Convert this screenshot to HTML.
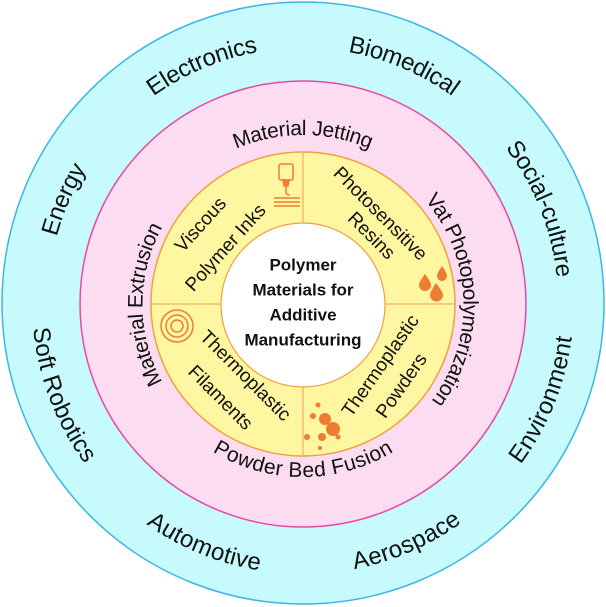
<!DOCTYPE html>
<html><head><meta charset="utf-8"><style>
html,body{margin:0;padding:0;background:#fff;}
svg{display:block;}
text{font-family:"Liberation Sans",sans-serif;fill:#111;}
</style></head><body>
<svg width="606" height="607" viewBox="0 0 606 607" xmlns="http://www.w3.org/2000/svg">
<defs>
<path id="oCW" d="M303,566 A263,263 0 0 1 303,40 A263,263 0 0 1 303,566"/>
<path id="oCCW" d="M303,40 A263,263 0 0 0 303,566 A263,263 0 0 0 303,40"/>
<path id="mCW" d="M303,472 A167,167 0 0 1 303,137 A167,167 0 0 1 303,472"/>
<path id="mCWt" d="M303,478 A175,175 0 0 1 303,128 A175,175 0 0 1 303,478"/>
<path id="mCCW" d="M303,137 A166,166 0 0 0 303,470 A166,166 0 0 0 303,137"/>
</defs>
<circle cx="303" cy="303" r="301" fill="#c6fafc" stroke="#3cb6e6" stroke-width="1.5"/>
<circle cx="303" cy="304" r="223" fill="#fcdcf0" stroke="#e84aa0" stroke-width="1.5"/>
<circle cx="303" cy="304" r="152" fill="#fff6a2" stroke="#f0a040" stroke-width="1.5"/>
<line x1="303" y1="152" x2="303" y2="456" stroke="#f0b060" stroke-width="1.2"/>
<line x1="151" y1="304" x2="455" y2="304" stroke="#f0b060" stroke-width="1.2"/>
<circle cx="303" cy="305" r="82" fill="#fff" stroke="#f0a040" stroke-width="1.2"/>

<g font-size="24" dominant-baseline="central" text-anchor="middle">
<text><textPath href="#oCW" startOffset="31.5%">Energy</textPath></text>
<text><textPath href="#oCW" startOffset="43.6%">Electronics</textPath></text>
<text><textPath href="#oCW" startOffset="56.4%">Biomedical</textPath></text>
<text><textPath href="#oCW" startOffset="69%">Social-culture</textPath></text>
<text><textPath href="#oCCW" startOffset="30.8%">Soft Robotics</textPath></text>
<text><textPath href="#oCCW" startOffset="43.8%">Automotive</textPath></text>
<text><textPath href="#oCCW" startOffset="56.5%">Aerospace</textPath></text>
<text><textPath href="#oCCW" startOffset="68.9%">Environment</textPath></text>
</g>
<g font-size="21" dominant-baseline="central" text-anchor="middle">
<text><textPath href="#mCWt" startOffset="50%">Material Jetting</textPath></text>
<text><textPath href="#mCW" startOffset="74.5%">Vat Photopolymerization</textPath></text>
<text><textPath href="#mCW" startOffset="25%">Material Extrusion</textPath></text>
<text><textPath href="#mCCW" startOffset="50%">Powder Bed Fusion</textPath></text>
</g>

<g font-size="17" font-weight="bold" text-anchor="middle" dominant-baseline="central">
<text x="303" y="265">Polymer</text>
<text x="303" y="290">Materials for</text>
<text x="303" y="315">Additive</text>
<text x="303" y="340">Manufacturing</text>
</g>

<g font-size="19" text-anchor="middle" dominant-baseline="central">
<text transform="translate(201,225) rotate(-48)">Viscous</text>
<text transform="translate(226,248) rotate(-48)">Polymer Inks</text>
<text transform="translate(380,214) rotate(45)">Photosensitive</text>
<text transform="translate(371,236) rotate(45)">Resins</text>
<text transform="translate(245,376) rotate(45)">Thermoplastic</text>
<text transform="translate(220,398) rotate(45)">Filaments</text>
<text transform="translate(381,366) rotate(-55)">Thermoplastic</text>
<text transform="translate(402,386) rotate(-55)">Powders</text>
</g>

<g fill="none" stroke="#ee7d31" stroke-width="1.5">
<rect x="279" y="164" width="14" height="16" rx="2"/>
<path d="M283,180 h6 l-1,6 h-4z" fill="#ee7d31"/>
<path d="M286,186 v6 q0,3 4,3"/>
<line x1="274" y1="198" x2="300" y2="198"/>
<line x1="274" y1="202" x2="300" y2="202"/>
<line x1="274" y1="206" x2="300" y2="206"/>
<circle cx="177" cy="326" r="16"/>
<circle cx="177" cy="326" r="11"/>
<circle cx="177" cy="326" r="6"/>
</g>
<g fill="#ee7d31">
<path d="M425,274 q-6,8 -6,11 a6,6 0 0 0 12,0 q0,-3 -6,-11z"/>
<path d="M442,266 q-5,7 -5,10 a5,5 0 0 0 10,0 q0,-3 -5,-10z"/>
<path d="M436,283 q-6,9 -6,12 a6.5,6.5 0 0 0 13,0 q0,-3 -7,-12z"/>
<circle cx="325" cy="419" r="6"/>
<circle cx="333" cy="429" r="7"/>
<circle cx="322" cy="437" r="4"/>
<circle cx="313" cy="416" r="3"/>
<circle cx="318" cy="405" r="2.5"/>
<circle cx="338" cy="437" r="2.5"/>
<circle cx="307" cy="437" r="3"/>
<circle cx="320" cy="448" r="2"/>
</g>
</svg>
</body></html>
